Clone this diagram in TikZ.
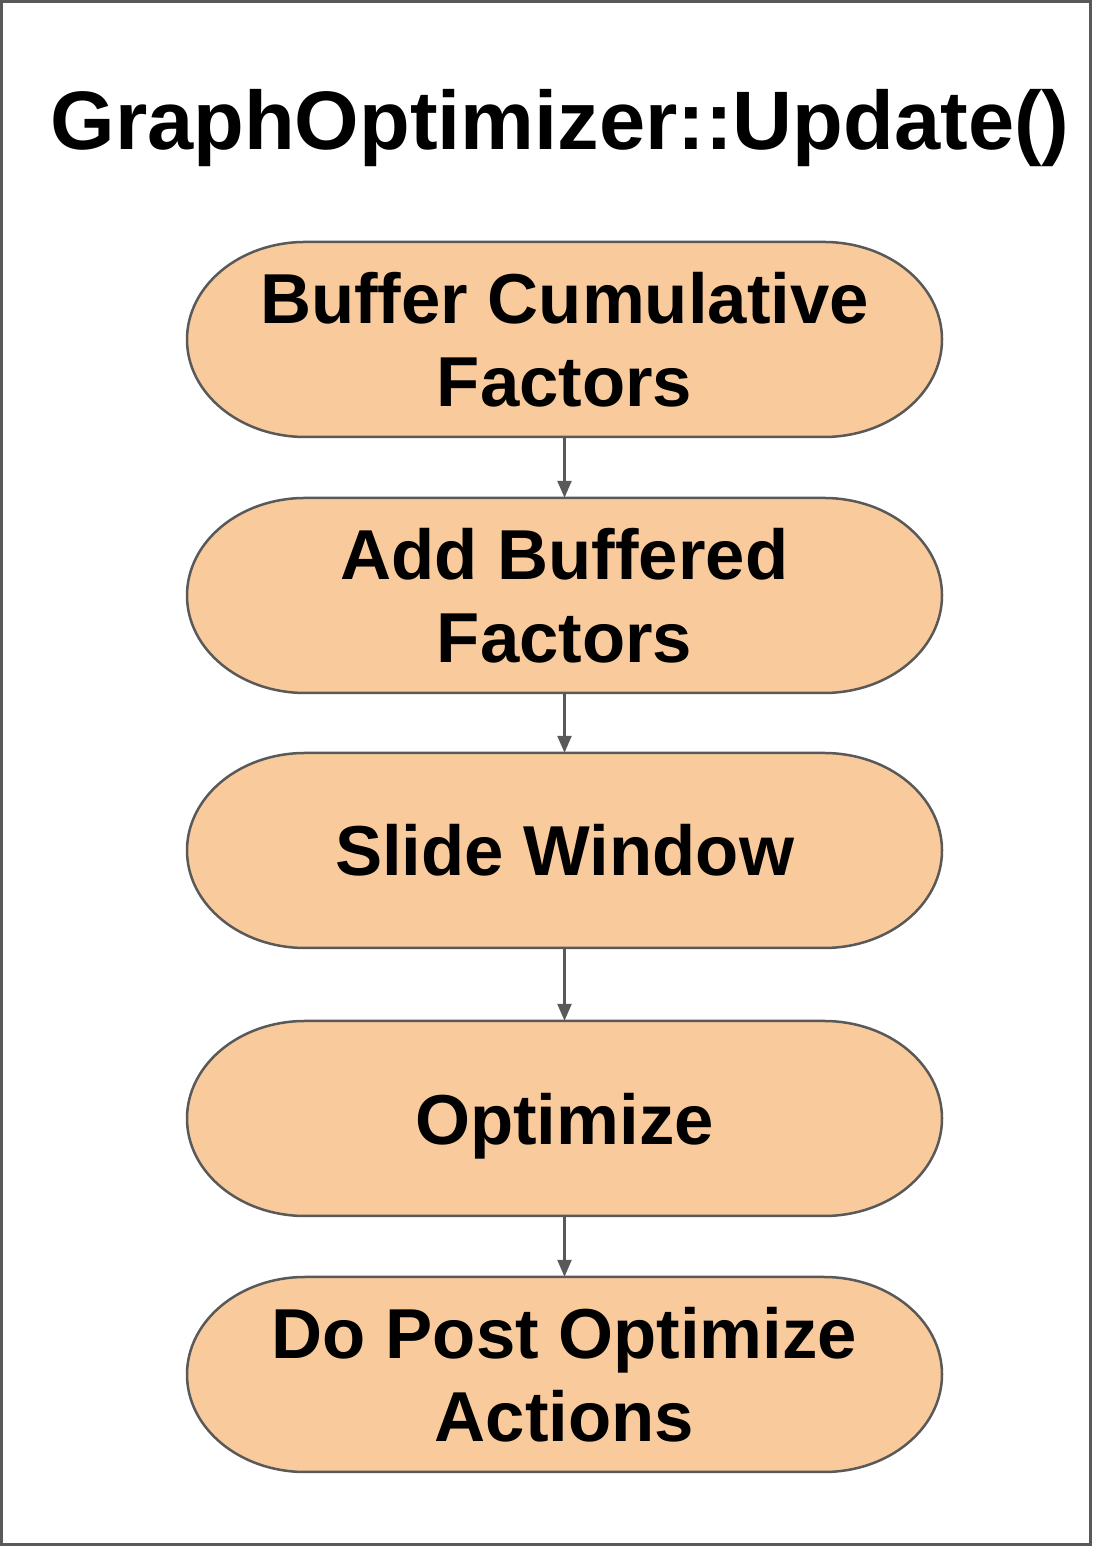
\documentclass[tikz,border=0pt]{standalone}
\usepackage{fontspec}
\setmainfont{Liberation Sans}
\usetikzlibrary{arrows.meta}
\definecolor{peach}{HTML}{F9CB9C}
\definecolor{edge}{HTML}{595959}
\begin{document}
\begin{tikzpicture}[x=1pt,y=1pt,
  stadiumbox/.style={fill=peach,draw=edge,line width=2.5pt},
  steptext/.style={minimum width=755pt,minimum height=195pt,inner sep=0pt,align=center,
    font=\fontsize{70.7}{83}\selectfont\bfseries},
  flow/.style={draw=edge,line width=2.5pt,-{Triangle[length=17pt,width=14pt]}},
  frame/.style={draw=edge,line width=3pt}]
\useasboundingbox (0,0) rectangle (1092,1546);
\draw[frame] (1.5,1.5) rectangle (1090.5,1544.5);
\node[anchor=base,font=\fontsize{83}{96}\selectfont\bfseries] (title) at (560,1396) {GraphOptimizer::Update()};
\foreach \cy in {1206.5,950.5,695.5,427.5,171.5}{
  \draw[stadiumbox] (564.5-259.5,\cy+97.5) -- (564.5+259.5,\cy+97.5)
    arc[start angle=90,end angle=-90,x radius=118,y radius=97.5]
    -- (564.5-259.5,\cy-97.5)
    arc[start angle=270,end angle=90,x radius=118,y radius=97.5] -- cycle;
}
\node[steptext] (n1) at (564.5,1206.5) {Buffer Cumulative\\Factors};
\node[steptext] (n2) at (564.5,950.5) {Add Buffered\\Factors};
\node[steptext] (n3) at (564.5,695.5) {Slide Window};
\node[steptext,text depth=0pt] (n4) at (564.5,427.5) {Optimize};
\node[steptext] (n5) at (564.5,171.5) {Do Post Optimize\\Actions};
\draw[flow] (n1.south) -- (n2.north);
\draw[flow] (n2.south) -- (n3.north);
\draw[flow] (n3.south) -- (n4.north);
\draw[flow] (n4.south) -- (n5.north);
\end{tikzpicture}
\end{document}
